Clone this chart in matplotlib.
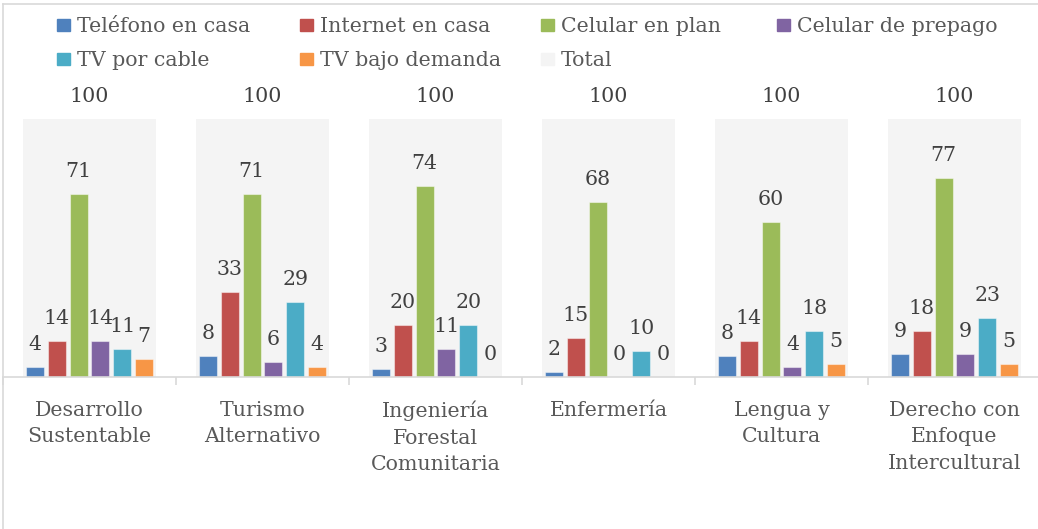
import numpy as np
import matplotlib.pyplot as plt
from matplotlib.lines import Line2D
from matplotlib.patches import Rectangle

carreras = ['Desarrollo\nSustentable', 'Turismo\nAlternativo', 'Ingeniería\nForestal\nComunitaria',
            'Enfermería', 'Lengua y\nCultura', 'Derecho con\nEnfoque\nIntercultural']

series = ['Teléfono en casa', 'Internet en casa', 'Celular en plan', 'Celular de prepago',
          'TV por cable', 'TV bajo demanda']
telefono = [4, 8, 3, 2, 8, 9]
internet = [14, 33, 20, 15, 14, 18]
celular_plan = [71, 71, 74, 68, 60, 77]
celular_prepago = [14, 6, 11, 0, 4, 9]
tv_cable = [11, 29, 20, 10, 18, 23]
tv_demanda = [7, 4, 0, 0, 5, 5]
total = [100, 100, 100, 100, 100, 100]

valores = [telefono, internet, celular_plan, celular_prepago, tv_cable, tv_demanda]
colores = ['#4F81BD', '#C0504D', '#9BBB59', '#8064A2', '#4BACC6', '#F79646']
color_total = '#F4F4F4'

plt.rcParams['font.family'] = 'DejaVu Serif'
FS = 14.8
W, H = 1038, 529

fig = plt.figure(figsize=(W / 100, H / 100), dpi=100)
ax = fig.add_axes([3 / W, (H - 377) / H, 1.0, 309.6 / H])

x = np.arange(len(carreras))
slot = 0.126
bw = 0.104

# barra de total al fondo
ax.bar(x, total, width=0.77, color=color_total, zorder=1)
for xi, v in zip(x, total):
    ax.annotate(str(v), (xi, v), xytext=(0, 12.2), textcoords='offset points',
                ha='center', va='baseline', fontsize=FS, color='#404040')

for i, (vals, col) in enumerate(zip(valores, colores)):
    pos = x + (i - 2.5) * slot
    ax.bar(pos, vals, width=bw, color=col, edgecolor=(1, 1, 1, 0.45), linewidth=0.8, zorder=2)
    for xi, v in zip(pos, vals):
        ax.annotate(str(v), (xi, v), xytext=(0, 12.2), textcoords='offset points',
                    ha='center', va='baseline', fontsize=FS, color='#404040', zorder=3)

ax.set_xlim(-0.5, len(carreras) - 0.5)
ax.set_ylim(0, 120)
ax.set_yticks([])
for s in ['left', 'right', 'top']:
    ax.spines[s].set_visible(False)
ax.spines['bottom'].set_color('#D9D9D9')
ax.spines['bottom'].set_linewidth(1.2)
ax.set_facecolor('none')

ax.set_xticks(x)
ax.set_xticklabels(carreras, fontsize=FS, color='#595959', linespacing=1.5)
ax.tick_params(axis='x', which='major', length=0, pad=17)
ax.set_xticks(np.arange(-0.5, len(carreras)), minor=True)
ax.tick_params(axis='x', which='minor', length=6, width=1.2, color='#D9D9D9')
for lab in ax.get_xticklabels():
    lab.set_verticalalignment('top')

# leyenda manual en 4 columnas, llenado por filas
nombres = series + ['Total']
cols_leg = colores + [color_total]
col_x = [57, 300, 541, 777]
row_base = [32, 66]
for k, (nom, c) in enumerate(zip(nombres, cols_leg)):
    r, cc = divmod(k, 4)
    x0 = col_x[cc]
    yb = row_base[r]
    fig.patches.append(Rectangle((x0 / W, 1 - (yb - 1) / H), 13 / W, 12 / H,
                                 transform=fig.transFigure, color=c))
    fig.text((x0 + 20) / W, 1 - yb / H, nom, fontsize=FS, color='#595959',
             ha='left', va='baseline')

# marco del gráfico
fig.add_artist(Line2D([3 / W, 3 / W], [0, 1 - 4 / H], color='#D9D9D9', lw=1.2))
fig.add_artist(Line2D([3 / W, 1], [1 - 4 / H, 1 - 4 / H], color='#D9D9D9', lw=1.2))

fig.savefig('out.png', dpi=100)
